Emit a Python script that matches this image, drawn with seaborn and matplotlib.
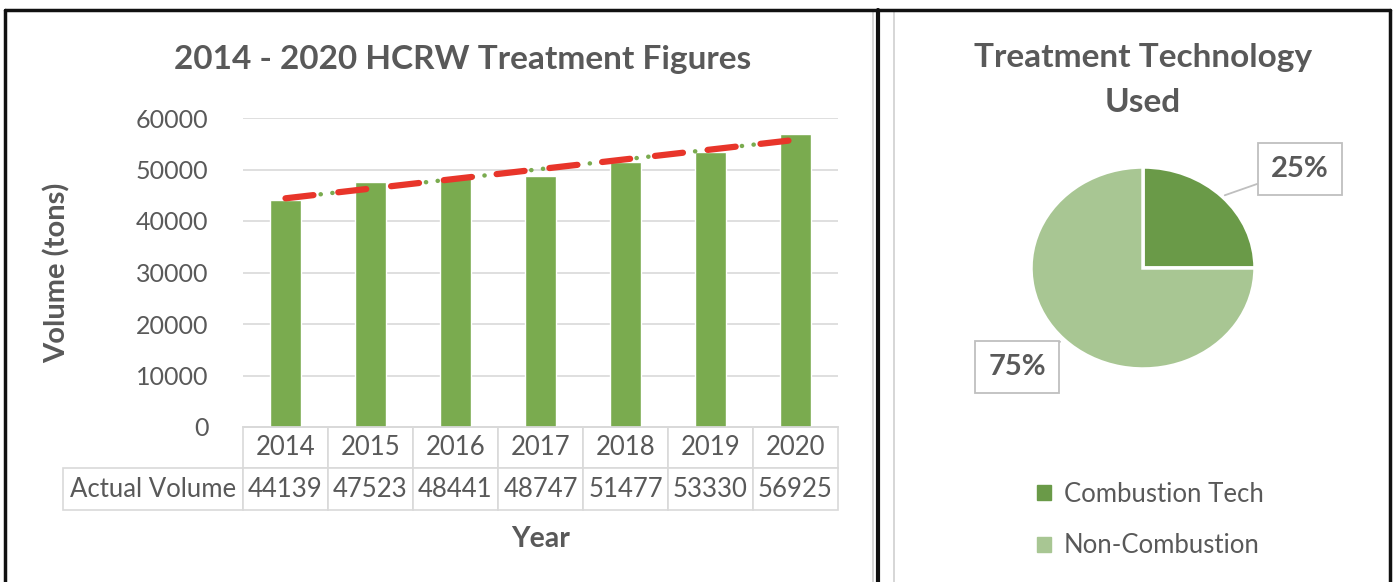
import numpy as np
import pandas as pd
import seaborn as sns
import matplotlib.pyplot as plt
from matplotlib.table import Table
from matplotlib.lines import Line2D
from matplotlib.patches import Patch

# Chart data
years = ["2014", "2015", "2016", "2017", "2018", "2019", "2020"]
volumes = [44139, 47523, 48441, 48747, 51477, 53330, 56925]
tech_labels = ["Combustion Tech", "Non-Combustion"]
tech_share = [25, 75]

bar_green = "#7aab4f"
dark_green = "#6a9a48"
light_green = "#a8c693"
text_gray = "#595959"
grid_gray = "#d9d9d9"

sns.set_theme(style="white")
plt.rcParams["font.family"] = ["Lato", "DejaVu Sans"]

W, H = 1395, 582
fig = plt.figure(figsize=(W / 100, H / 100), dpi=100)


def fbox(x0, y0, x1, y1):
    # pixel box (top-left origin) -> figure fraction rect
    return [x0 / W, 1 - y1 / H, (x1 - x0) / W, (y1 - y0) / H]


# ---- Bar chart ----
ax = fig.add_axes(fbox(243, 118, 838, 427))
df = pd.DataFrame({"Year": years, "Volume": volumes})
sns.barplot(data=df, x="Year", y="Volume", color=bar_green, width=0.36,
            saturation=1, ax=ax, zorder=2)

# linear trend lines
xs = np.arange(len(years))
coef = np.polyfit(xs, volumes, 1)
trend = np.polyval(coef, xs)
ax.plot(xs, trend, color=bar_green, lw=3.2, ls=(0, (0.05, 2.6)),
        dash_capstyle="round", zorder=3)
ax.plot(xs, trend, color="#e8352a", lw=4.5, ls=(0, (4.5, 4)),
        dash_capstyle="round", zorder=4)

ax.set_ylim(0, 60000)
ax.set_xlim(-0.5, len(years) - 0.5)
ax.set_yticks(range(0, 60001, 10000))
ax.yaxis.grid(True, color=grid_gray, lw=1.2)
ax.set_axisbelow(True)
ax.tick_params(axis="y", labelsize=18, labelcolor=text_gray, pad=25, length=0)
ax.set_xticks([])
ax.set_xlabel("")
ax.set_ylabel("Volume (tons)", fontsize=21, fontweight="bold", color=text_gray)
ax.yaxis.set_label_coords(-0.29, 0.5)
for s in ["left", "right", "top"]:
    ax.spines[s].set_visible(False)
ax.spines["bottom"].set_color(grid_gray)

# data table under the axis
row_h = 41.5 / 309
tab = Table(ax, bbox=[-180 / 595, -2 * row_h, 1 + 180 / 595, 2 * row_h])
for i, y in enumerate(years):
    tab.add_cell(0, i + 1, width=85, height=1, text=y, loc="center")
    tab.add_cell(1, i + 1, width=85, height=1, text=str(volumes[i]), loc="center")
tab.add_cell(1, 0, width=180, height=1, text="Actual Volume", loc="center")
tab.auto_set_font_size(False)
tab.set_fontsize(18.5)
for cell in tab.get_celld().values():
    cell.set_edgecolor(grid_gray)
    cell.set_linewidth(1.2)
    cell.get_text().set_color(text_gray)
ax.add_table(tab)

ax.text(0.5, (427 - 539) / 309, "Year", transform=ax.transAxes, ha="center",
        va="center", fontsize=20.5, fontweight="bold", color=text_gray)
fig.text(463 / W, 1 - 60 / H, "2014 - 2020 HCRW Treatment Figures", ha="center",
         va="center", fontsize=24, fontweight="bold", color=text_gray)

# ---- Pie chart ----
cx, cy, rx, ry = 1143, 268, 112, 101
pax = fig.add_axes(fbox(cx - 1.25 * rx, cy - 1.25 * ry, cx + 1.25 * rx, cy + 1.25 * ry))
wedges, _ = pax.pie(tech_share, colors=[dark_green, light_green], startangle=90,
                    counterclock=False,
                    wedgeprops=dict(edgecolor="white", linewidth=2.5))
pax.set_aspect("auto")
pax.set_xlim(-1.25, 1.25)
pax.set_ylim(-1.25, 1.25)

box = dict(boxstyle="square,pad=0.45", fc="white", ec="#bfbfbf", lw=1.3)
lead = dict(arrowstyle="-", color="#bfbfbf", lw=1.3, shrinkA=0, shrinkB=0)
pax.annotate(f"{tech_share[0]}%", xy=(0.73, 0.72), xytext=(1.40, 0.98),
             ha="center", va="center", fontsize=21, fontweight="bold",
             color=text_gray, bbox=box, arrowprops=lead, annotation_clip=False)
pax.annotate(f"{tech_share[1]}%", xy=(-0.74, -0.73), xytext=(-1.125, -0.98),
             ha="center", va="center", fontsize=21, fontweight="bold",
             color=text_gray, bbox=box, arrowprops=lead, annotation_clip=False)

fig.text(1143 / W, 1 - 80 / H, "Treatment Technology\nUsed", ha="center",
         va="center", fontsize=24, fontweight="bold", color=text_gray,
         linespacing=1.65)

handles = [Patch(color=dark_green), Patch(color=light_green)]
fig.legend(handles, tech_labels, loc="center", bbox_to_anchor=(1150 / W, 1 - 520 / H),
           frameon=False, fontsize=18.5, labelcolor=text_gray, handlelength=0.55,
           handleheight=0.55, handletextpad=0.5, labelspacing=1.05)

# ---- panel frames ----
def fline(xs_, ys_, color, lw):
    fig.add_artist(Line2D([x / W for x in xs_], [1 - y / H for y in ys_],
                          color=color, lw=lw, transform=fig.transFigure))

fline([873, 873], [12, H], "#d0d0d0", 1.2)
fline([894, 894], [12, H], "#d0d0d0", 1.2)
fline([5, 1390], [10, 10], "#111111", 2.5)
fline([5, 5], [10, H], "#111111", 2.5)
fline([878, 878], [10, H], "#111111", 3)
fline([1390, 1390], [10, H], "#111111", 2.5)

fig.savefig("out.png", dpi=100)
